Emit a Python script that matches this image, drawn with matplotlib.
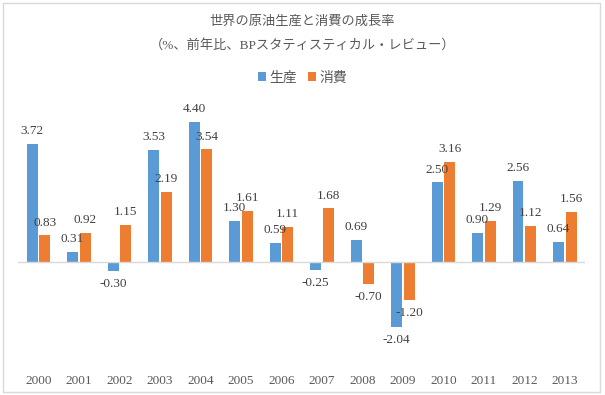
import matplotlib
matplotlib.use('Agg')
import matplotlib.pyplot as plt
import numpy as np
from matplotlib.patches import Rectangle

plt.rcParams['font.family'] = ['Liberation Serif', 'Noto Sans CJK JP']

years = ['2000', '2001', '2002', '2003', '2004', '2005', '2006',
         '2007', '2008', '2009', '2010', '2011', '2012', '2013']
production = [3.72, 0.31, -0.30, 3.53, 4.40, 1.30, 0.59,
              -0.25, 0.69, -2.04, 2.50, 0.90, 2.56, 0.64]
consumption = [0.83, 0.92, 1.15, 2.19, 3.54, 1.61, 1.11,
               1.68, -0.70, -1.20, 3.16, 1.29, 1.12, 1.56]

blue = '#5B9BD5'
orange = '#ED7D31'
grey = '#595959'

fig = plt.figure(figsize=(6.05, 3.95), dpi=100)
ax = fig.add_axes([0.030, 0.096, 0.937, 0.643])

x = np.arange(len(years))
w = 0.27
b1 = ax.bar(x - w / 2 - 0.02, production, w, color=blue, label='生産')
b2 = ax.bar(x + w / 2 + 0.02, consumption, w, color=orange, label='消費')

for bars, vals in ((b1, production), (b2, consumption)):
    for r, v in zip(bars, vals):
        cx = r.get_x() + r.get_width() / 2
        if v >= 0:
            ax.annotate(f'{v:.2f}', (cx, v), xytext=(0, 5), textcoords='offset points',
                        ha='center', va='bottom', fontsize=9.5, color='#404040')
        else:
            ax.annotate(f'{v:.2f}', (cx, v), xytext=(0, -5),
                        textcoords='offset points', ha='center', va='top',
                        fontsize=9.5, color='#404040')

ax.axhline(0, color='#D9D9D9', lw=1)
ax.set_xlim(-0.5, len(years) - 0.5)
ax.set_ylim(-3, 5)
ax.set_yticks([])
ax.set_xticks(x)
ax.set_xticklabels(years, fontsize=9.5, color=grey)
ax.tick_params(axis='x', length=0, pad=13)
for s in ax.spines.values():
    s.set_visible(False)

fig.text(0.5, 1 - 22 / 395, '世界の原油生産と消費の成長率', ha='center', va='center',
         fontsize=9.5, color=grey)
fig.text(0.5, 1 - 45 / 395, '（%、前年比、BPスタティスティカル・レビュー）', ha='center',
         va='center', fontsize=9.5, color=grey)

fig.legend(handles=[b1, b2], loc='center', bbox_to_anchor=(0.5, 1 - 78 / 395), ncol=2,
           frameon=False, fontsize=10, handlelength=0.6, handleheight=0.6,
           handletextpad=0.2, columnspacing=0.8, labelcolor=grey)

fig.patches.append(Rectangle((3 / 605, 3 / 395), 597 / 605, 389 / 395, transform=fig.transFigure,
                             fill=False, edgecolor='#D9D9D9', lw=1))

fig.savefig('out.png', dpi=100)
